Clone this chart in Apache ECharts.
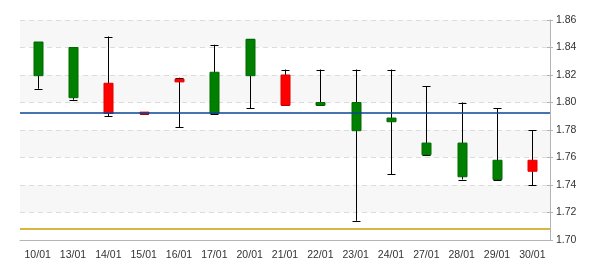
<!DOCTYPE html>
<html>
<head>
<meta charset="utf-8">
<script src="https://cdn.jsdelivr.net/npm/echarts@6/dist/echarts.min.js"></script>
<style>html,body{margin:0;padding:0;background:#fff}#c{width:600px;height:270px}</style>
</head>
<body>
<div id="c"></div>
<script>
var categories = ['10/01','13/01','14/01','15/01','16/01','17/01','20/01','21/01','22/01','23/01','24/01','27/01','28/01','29/01','30/01'];
var opens  = [1.844, 1.840, 1.792, 1.7915, 1.815, 1.822, 1.846, 1.798, 1.800, 1.800, 1.7887, 1.7705, 1.7705, 1.758, 1.750];
var closes = [1.8195, 1.8035, 1.814, 1.7930, 1.817, 1.792, 1.8195, 1.820, 1.798, 1.7795, 1.786, 1.762, 1.746, 1.744, 1.758];
var lows   = [1.810, 1.802, 1.790, 1.7915, 1.782, 1.792, 1.796, 1.798, 1.798, 1.714, 1.748, 1.762, 1.744, 1.744, 1.740];
var highs  = [1.844, 1.840, 1.848, 1.7930, 1.818, 1.842, 1.846, 1.824, 1.824, 1.824, 1.824, 1.812, 1.800, 1.796, 1.780];
var yTicks = [1.70, 1.72, 1.74, 1.76, 1.78, 1.80, 1.82, 1.84, 1.86];
var blueLevel = 1.7927;
var goldLevel = 1.7085;

var data = categories.map(function (c, i) { return [i, opens[i], closes[i], lows[i], highs[i]]; });

function renderItem(params, api) {
  var idx = api.value(0);
  var o = api.coord([idx, api.value(1)]);
  var c = api.coord([idx, api.value(2)]);
  var l = api.coord([idx, api.value(3)]);
  var h = api.coord([idx, api.value(4)]);
  var x = Math.round(o[0]) + 0.5;
  var bw = 9, cw = 8;
  var up = api.value(2) >= api.value(1);
  var top = Math.min(o[1], c[1]);
  var bh = Math.max(Math.abs(o[1] - c[1]), 2);
  var ls = { stroke: '#000', lineWidth: 1 };
  return {
    type: 'group',
    children: [
      { type: 'line', shape: { x1: x, y1: h[1], x2: x, y2: l[1] }, style: ls },
      { type: 'line', shape: { x1: x - cw / 2, y1: Math.round(h[1]) + 0.5, x2: x + cw / 2, y2: Math.round(h[1]) + 0.5 }, style: ls },
      { type: 'line', shape: { x1: x - cw / 2, y1: Math.round(l[1]) + 0.5, x2: x + cw / 2, y2: Math.round(l[1]) + 0.5 }, style: ls },
      { type: 'rect', shape: { x: x - bw / 2, y: top, width: bw, height: bh },
        style: { fill: up ? '#ff0000' : '#007f00', stroke: up ? '#e00000' : '#006a00', lineWidth: 1 } }
    ]
  };
}

var chart = echarts.init(document.getElementById('c'), null, { renderer: 'canvas' });
var font = 'Liberation Sans, Arial, sans-serif';
chart.setOption({
  animation: false,
  grid: { left: 20, right: 50, top: 20, bottom: 30, containLabel: false },
  xAxis: [{
    type: 'category', data: categories, boundaryGap: true,
    axisLine: { lineStyle: { color: '#b4b4b4', width: 1 } },
    axisTick: { alignWithLabel: true, interval: 0, length: 3, lineStyle: { color: '#b4b4b4' } },
    axisLabel: { interval: 0, color: '#333', fontSize: 10.5, fontFamily: font, margin: 10 },
    splitLine: { show: false }
  }, {
    type: 'category', data: categories, boundaryGap: true, position: 'bottom',
    axisLine: { show: false },
    axisTick: { alignWithLabel: true, interval: 0, inside: true, length: 3, lineStyle: { color: '#b4b4b4' } },
    axisLabel: { show: false }, splitLine: { show: false }
  }],
  yAxis: [{
    type: 'value', position: 'right', min: 1.70, max: 1.86, interval: 0.02,
    axisLine: { show: true, lineStyle: { color: '#b4b4b4' } },
    axisTick: { show: true, length: 3, lineStyle: { color: '#b4b4b4' } },
    axisLabel: { color: '#333', fontSize: 10.5, fontFamily: font, margin: 6,
      formatter: function (v) { return v.toFixed(2); } },
    splitLine: { show: true, lineStyle: { color: '#dcdcdc', type: [5, 4] } },
    splitArea: { show: true, areaStyle: { color: ['rgba(255,255,255,0)', '#f7f7f7'] } }
  }, {
    type: 'value', position: 'right', min: 1.70, max: 1.86, interval: 0.02,
    axisLine: { show: false }, axisLabel: { show: false }, splitLine: { show: false },
    axisTick: { show: true, inside: true, length: 3, lineStyle: { color: '#b4b4b4' } }
  }],
  series: [{
    type: 'custom', renderItem: renderItem, data: data,
    encode: { x: 0, y: [1, 2, 3, 4] },
    z: 3,
    markLine: {
      silent: true, precision: 4, symbol: ['none', 'none'], label: { show: false },
      data: [
        { yAxis: blueLevel, lineStyle: { color: '#0a4696', width: 1.5, type: 'solid' } },
        { yAxis: goldLevel, lineStyle: { color: '#cc9e00', width: 1.5, type: 'solid' } }
      ]
    }
  }]
});
</script>
</body>
</html>
